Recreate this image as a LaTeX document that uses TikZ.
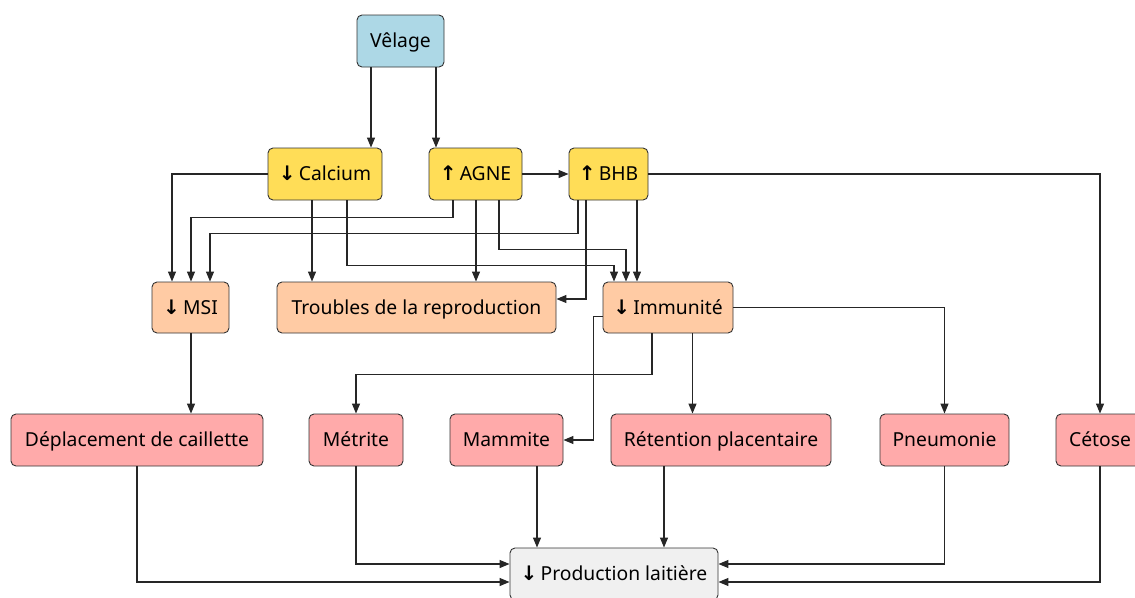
\documentclass[tikz,border=0pt]{standalone}
\usepackage{fontspec}
\setmainfont{Noto Sans}
\newfontfamily\arrf{DejaVu Sans}[BoldFont=* Bold]
\newcommand{\dn}{{\arrf\bfseries\fontsize{20}{20}\selectfont ↓}}
\newcommand{\up}{{\arrf\bfseries\fontsize{20}{20}\selectfont ↑}}
\usetikzlibrary{arrows.meta}
\definecolor{cblue}{HTML}{ADD8E6}
\definecolor{cyel}{HTML}{FFDD57}
\definecolor{cpeach}{HTML}{FFCBA4}
\definecolor{cpink}{HTML}{FFAAAA}
\definecolor{cgray}{HTML}{F0F0F0}
\definecolor{cline}{HTML}{333333}
\tikzset{
  box/.style={draw=cline, line width=0.9pt, rounded corners=5pt, align=center, inner sep=0pt,
    text height=13.8pt, text depth=0pt,
    font=\fontsize{19.3}{22}\selectfont},
  arr/.style={draw=black!85, line width=1.2pt, -{Triangle[length=10pt,width=8pt]}},
}
\begin{document}
\begin{tikzpicture}[x=1pt,y=-1pt]
\useasboundingbox (0,0) rectangle (1135,597);
\node[box, fill=cblue, minimum width=87pt, minimum height=52pt] (vel) at (400.5,41) {Vêlage};
\node[box, fill=cyel, minimum width=114pt, minimum height=52pt] (calc) at (325,174) {\dn\,Calcium};
\node[box, fill=cyel, minimum width=93pt, minimum height=52pt] (agne) at (475.5,174) {\up\,AGNE};
\node[box, fill=cyel, minimum width=79pt, minimum height=52pt] (bhb) at (608.5,174) {\up\,BHB};
\node[box, fill=cpeach, minimum width=77pt, minimum height=51pt] (msi) at (190.5,307.5) {\dn\,MSI};
\node[box, fill=cpeach, minimum width=279pt, minimum height=51pt] (trou) at (416.5,307.5) {Troubles de la reproduction};
\node[box, fill=cpeach, minimum width=130pt, minimum height=51pt] (imm) at (668,307.5) {\dn\,Immunité};
\node[box, fill=cpink, minimum width=252pt, minimum height=52pt] (dep) at (137,440) {Déplacement de caillette};
\node[box, fill=cpink, minimum width=94pt, minimum height=52pt] (met) at (356,440) {Métrite};
\node[box, fill=cpink, minimum width=113pt, minimum height=52pt] (mam) at (506.5,440) {Mammite};
\node[box, fill=cpink, minimum width=220pt, minimum height=52pt] (ret) at (721,440) {Rétention placentaire};
\node[box, fill=cpink, minimum width=129pt, minimum height=52pt] (pne) at (944.5,440) {Pneumonie};
\node[box, fill=cpink, minimum width=88pt, minimum height=52pt] (cet) at (1100,440) {Cétose};
\node[box, fill=cgray, minimum width=208pt, minimum height=52pt] (prod) at (614,574) {\dn\,Production laitière};

\draw[arr] ([xshift=-29.5pt]vel.south) -- ([xshift=46pt]calc.north);
\draw[arr] ([xshift=35.5pt]vel.south) -- ([xshift=-39.5pt]agne.north);
\draw[arr] (agne.east) -- (bhb.west);
\draw[arr] (bhb.east) -| (cet.north);
\draw[arr] (calc.west) -| ([xshift=-18.5pt]msi.north);
\draw[arr] ([xshift=-22.5pt]agne.south) -- ++(0,17) -| ([xshift=0.5pt]msi.north);
\draw[arr] ([xshift=-30.5pt]bhb.south) -- ++(0,33) -| ([xshift=19.5pt]msi.north);
\draw[arr] ([xshift=-13pt]calc.south) -- ([xshift=-104.5pt]trou.north);
\draw[arr] ([xshift=0.5pt]agne.south) -- ([xshift=59.5pt]trou.north);
\draw[arr] ([xshift=-22.5pt]bhb.south) |- ([yshift=8.5pt]trou.east);
\draw[arr] ([xshift=22pt]calc.south) -- ++(0,65) -| ([xshift=-54pt]imm.north);
\draw[arr] ([xshift=23.5pt]agne.south) -- ++(0,49) -| ([xshift=-42pt]imm.north);
\draw[arr] ([xshift=28.5pt]bhb.south) -- ([xshift=-31pt]imm.north);
\draw[arr] (imm.east) -| (pne.north);
\draw[arr] ([xshift=-16pt]imm.south) -- ++(0,41) -| (met.north);
\draw[arr] ([yshift=-9pt]imm.west) -- ++(-9,0) |- (mam.east);
\draw[arr] ([xshift=24.5pt]imm.south) -- ([xshift=-28.5pt]ret.north);
\draw[arr] ([xshift=0.5pt]msi.south) -- ([xshift=54pt]dep.north);
\draw[arr] (dep.south) |- ([yshift=-8pt]prod.west);
\draw[arr] (met.south) |- ([yshift=10pt]prod.west);
\draw[arr] ([xshift=30.5pt]mam.south) -- ([xshift=-77pt]prod.north);
\draw[arr] ([xshift=-57pt]ret.south) -- ([xshift=50pt]prod.north);
\draw[arr] (pne.south) |- ([yshift=10pt]prod.east);
\draw[arr] (cet.south) |- ([yshift=-8pt]prod.east);
\end{tikzpicture}
\end{document}
